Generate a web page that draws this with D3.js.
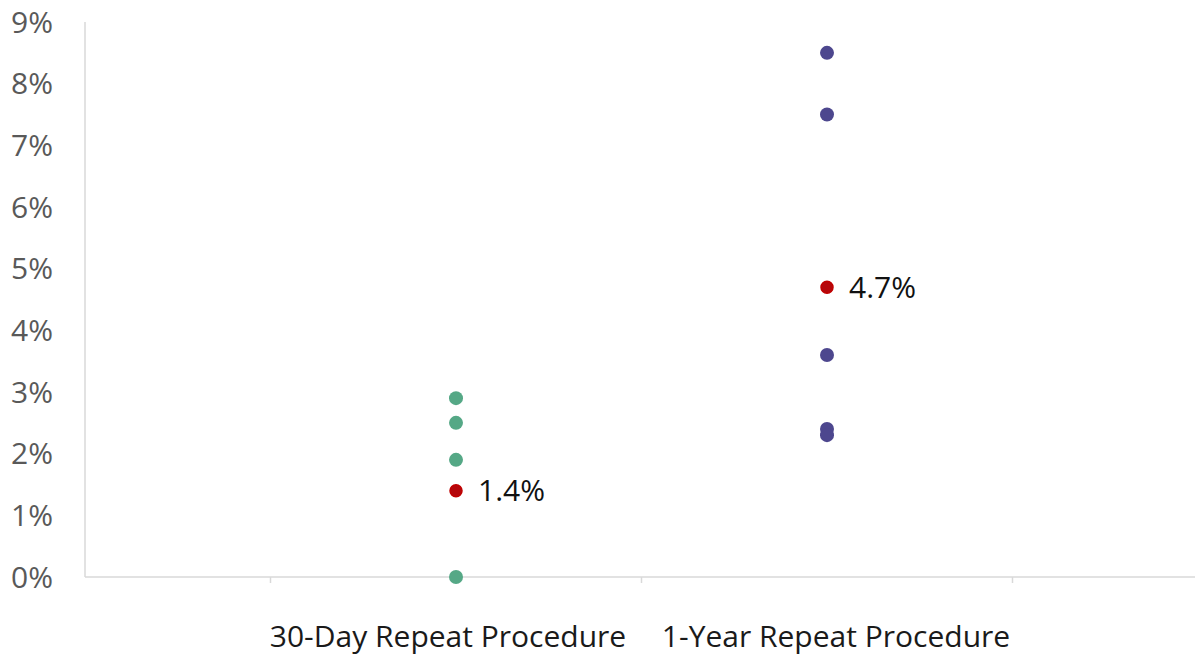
<!DOCTYPE html>
<html lang="en">
<head>
  <meta charset="utf-8"/>
  <title>Repeat procedure rates</title>
  <script src="https://d3js.org/d3.v7.min.js"></script>
  <style>
    body { margin: 0; background: #fff; }
    text { font-family: "Open Sans", sans-serif; }
  </style>
</head>
<body>
  <div id="chart"></div>
  <script>
    // values
    var categories = ['30-Day Repeat Procedure', '1-Year Repeat Procedure'];
    var thirtyDay = [2.9, 2.5, 1.9, 0];
    var oneYear = [8.5, 7.5, 3.6, 2.4, 2.3];
    var averages = [1.4, 4.7];
    var yTicks = [0, 1, 2, 3, 4, 5, 6, 7, 8, 9];

    var width = 1195, height = 658;
    var svg = d3.select('#chart').append('svg')
      .attr('width', width)
      .attr('height', height);

    var x = d3.scaleLinear().domain([0, 3]).range([85, 1198]);
    var y = d3.scaleLinear().domain([0, 9]).range([577, 22]);

    // y axis line + labels
    svg.append('line')
      .attr('x1', 85).attr('x2', 85)
      .attr('y1', y(9)).attr('y2', y(0))
      .attr('stroke', '#d9d9d9').attr('stroke-width', 1.5);

    svg.selectAll('.ytick')
      .data(yTicks)
      .enter().append('text')
      .attr('class', 'ytick')
      .attr('x', 53)
      .attr('y', d => y(d))
      .attr('dy', '0.36em')
      .attr('text-anchor', 'end')
      .attr('fill', '#595959')
      .style('font-size', '30px')
      .text(d => d + '%');

    // baseline and its small ticks
    svg.append('line')
      .attr('x1', 85).attr('x2', 1195)
      .attr('y1', y(0)).attr('y2', y(0))
      .attr('stroke', '#d9d9d9').attr('stroke-width', 1.5);

    svg.selectAll('.xtick')
      .data([0.5, 1.5, 2.5])
      .enter().append('line')
      .attr('x1', d => x(d)).attr('x2', d => x(d))
      .attr('y1', y(0)).attr('y2', y(0) + 6)
      .attr('stroke', '#d9d9d9').attr('stroke-width', 1.5);

    // category labels
    var labelShift = [-8, 9];
    svg.selectAll('.cat')
      .data(categories)
      .enter().append('text')
      .attr('class', 'cat')
      .attr('x', (d, i) => x(i + 1) + labelShift[i])
      .attr('y', 647)
      .attr('text-anchor', 'middle')
      .attr('fill', '#1a1a1a')
      .style('font-size', '30px')
      .text(d => d);

    // dots
    var series = [
      { pos: 1, values: thirtyDay, color: '#55a886' },
      { pos: 2, values: oneYear, color: '#4d478e' }
    ];
    series.forEach(function (s) {
      svg.selectAll(null)
        .data(s.values)
        .enter().append('circle')
        .attr('cx', x(s.pos))
        .attr('cy', d => y(d))
        .attr('r', 7)
        .attr('fill', s.color);
    });

    // averages in red
    svg.selectAll('.avg')
      .data(averages)
      .enter().append('circle')
      .attr('class', 'avg')
      .attr('cx', (d, i) => x(i + 1))
      .attr('cy', d => y(d))
      .attr('r', 6)
      .attr('fill', '#b5070b')
      .attr('stroke', '#c00000')
      .attr('stroke-width', 1.5);

    svg.selectAll('.avgLabel')
      .data(averages)
      .enter().append('text')
      .attr('class', 'avgLabel')
      .attr('x', (d, i) => x(i + 1) + 22)
      .attr('y', d => y(d))
      .attr('dy', '0.36em')
      .attr('fill', '#111')
      .style('font-size', '30px')
      .text(d => d.toFixed(1) + '%');
  </script>
</body>
</html>
